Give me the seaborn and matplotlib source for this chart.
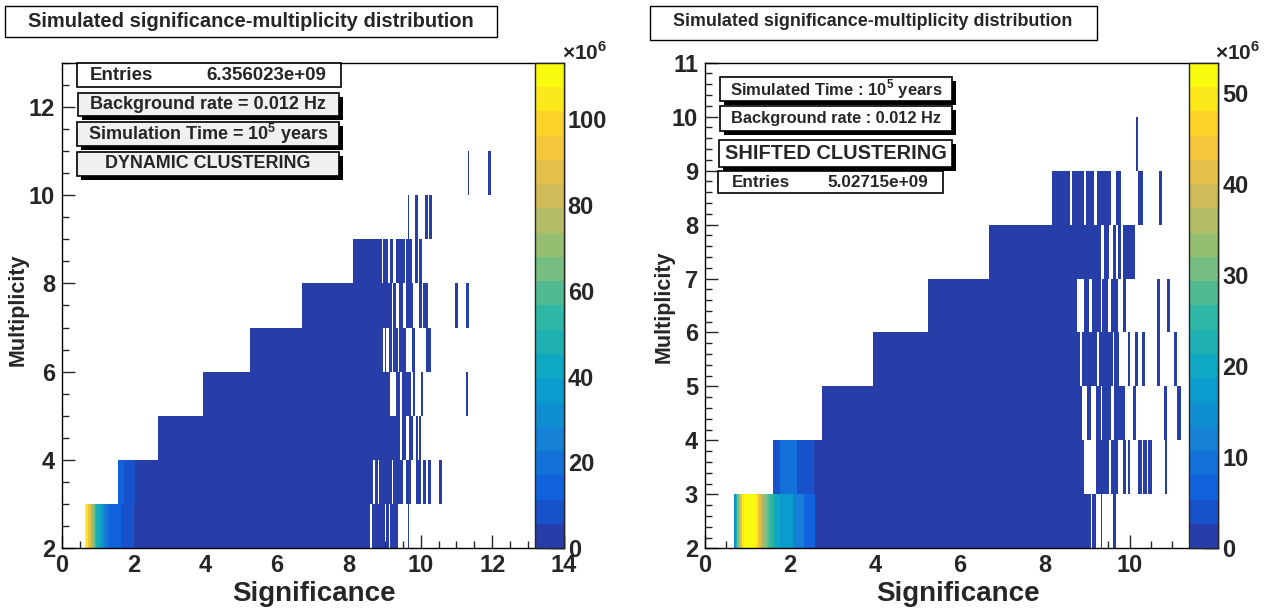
import numpy as np
import matplotlib
matplotlib.use('Agg')
import matplotlib.pyplot as plt
from matplotlib.colors import LinearSegmentedColormap, ListedColormap
from matplotlib.patches import Rectangle
import seaborn as sns

W, H = 1285, 612
BW = 0.04          # significance bin width
DARK = 2.0         # counts (x1e6) of the ordinary filled bins

# ---------------- left: dynamic clustering ----------------
left_rows = [2, 3, 4, 5, 6, 7, 8, 9, 10, 11, 12]
left_start = [0.64, 1.56, 2.68, 3.93, 5.24, 6.67, 8.13, None, None, None, None]
left_head = [
    [112, 104, 96, 86, 78, 70, 64, 56, 50, 45, 40, 36, 32, 28, 25, 22, 20,
     15, 15, 15, 15, 15, 15, 15, 15, 9, 9, 9, 9, 9, 9, 9, 9, 9],
    [13, 13, 13, 13, 8, 8, 8, 8, 8, 8, 8, 8],
    [], [], [], [], [], [], [], [], [],
]
left_solid_end = [8.61, 8.69, 9.32, 9.08, 8.96, 9.22, 8.92, None, None, None, None]
left_tails = [
    [(8.64, 8.68), (8.70, 8.76), (8.78, 8.84), (8.86, 8.96), (9.06, 9.12),
     (9.16, 9.22), (9.28, 9.34), (9.64, 9.68)],
    [(8.72, 8.80), (8.84, 8.98), (9.02, 9.20), (9.24, 9.34), (9.38, 9.52),
     (9.60, 9.69), (9.88, 10.00), (10.10, 10.15), (10.22, 10.26), (10.54, 10.58)],
    [(9.36, 9.44), (9.48, 9.57), (9.71, 9.80), (9.88, 9.92), (9.96, 10.00)],
    [(9.12, 9.16), (9.33, 9.43), (9.48, 9.57), (9.61, 9.71), (9.80, 9.84),
     (10.02, 10.06), (11.28, 11.32)],
    [(9.00, 9.04), (9.13, 9.17), (9.24, 9.34), (9.43, 9.57), (9.78, 9.82),
     (10.19, 10.22), (10.25, 10.28)],
    [(9.26, 9.30), (9.41, 9.49), (9.61, 9.66), (9.70, 9.78), (9.99, 10.04),
     (10.12, 10.17), (10.97, 11.01), (11.31, 11.35)],
    [(8.96, 9.00), (9.04, 9.08), (9.20, 9.24), (9.32, 9.38), (9.42, 9.54),
     (9.61, 9.66), (9.71, 9.75), (9.85, 9.89), (9.98, 10.02)],
    [(9.64, 9.68), (9.85, 9.89), (10.14, 10.18), (10.27, 10.31)],
    [(11.32, 11.36), (11.90, 11.94)],
    [], [],
]
left_zmax = 113.1
left_xmax = 14.0

# ---------------- right: shifted clustering ----------------
right_rows = [2, 3, 4, 5, 6, 7, 8, 9, 10]
right_start = [0.68, 1.60, 2.75, 3.95, 5.25, 6.67, None, None, None]
right_head = [
    [14, 22, 30, 38, 44, 49, 53, 53, 53, 53, 53, 53, 51, 48, 44, 40, 37, 34,
     32, 30, 28, 26, 24, 22, 21, 20, 19, 18,
     16, 16, 16, 16, 16, 16, 16, 12, 12, 12, 12, 12, 12, 6, 6, 6, 6, 6, 6, 6],
    [5, 5, 5, 5, 9, 9, 9, 9, 9, 9, 9, 9, 9, 9, 5, 5, 5, 5, 5, 5, 5, 5, 5, 5],
    [], [], [], [], [], [], [],
]
right_solid_end = [8.55, 8.94, 8.89, 8.86, 8.78, 8.75, None, None, None]
right_tails = [
    [(8.57, 8.62), (8.64, 8.70), (8.72, 8.78), (8.80, 8.86), (8.88, 8.92),
     (8.94, 8.98), (9.02, 9.06), (9.14, 9.18), (9.32, 9.36), (9.62, 9.66)],
    [(9.22, 9.26), (9.29, 9.37), (9.40, 9.49), (9.57, 9.64), (9.67, 9.72),
     (9.84, 9.88), (9.96, 10.00), (10.22, 10.26), (10.33, 10.37), (10.47, 10.51),
     (10.84, 10.88)],
    [(9.02, 9.06), (9.22, 9.29), (9.37, 9.45), (9.48, 9.53), (9.65, 9.73),
     (9.76, 9.86), (10.12, 10.16), (10.82, 10.86), (11.14, 11.18)],
    [(8.90, 9.06), (9.10, 9.22), (9.29, 9.41), (9.45, 9.60), (9.64, 9.76),
     (9.96, 10.00), (10.14, 10.18), (10.30, 10.34), (10.67, 10.71), (11.06, 11.10)],
    [(8.94, 9.02), (9.14, 9.29), (9.37, 9.45), (9.57, 9.69), (9.84, 9.92),
     (10.67, 10.71), (10.90, 10.94)],
    [(8.78, 8.84), (8.86, 9.00), (9.02, 9.14), (9.18, 9.29), (9.41, 9.49),
     (9.61, 9.65), (9.72, 9.80), (9.84, 9.88), (9.92, 9.96), (10.00, 10.04),
     (10.07, 10.11)],
    [(8.17, 8.27), (8.31, 8.38), (8.41, 8.60), (8.65, 8.73), (8.76, 8.92),
     (8.96, 9.14), (9.28, 9.32), (9.33, 9.36), (9.39, 9.43), (9.47, 9.50),
     (9.53, 9.56), (9.70, 9.80), (10.22, 10.30), (10.69, 10.73)],
    [(10.16, 10.20)],
    [],
]
right_zmax = 53.3
right_xmax = 12.08

# ROOT kBird palette, 20 contour levels
bird_stops = [0.0, 0.125, 0.25, 0.375, 0.5, 0.625, 0.75, 0.875, 1.0]
bird_r = [0.2082, 0.0592, 0.0780, 0.0232, 0.1802, 0.5301, 0.8186, 0.9956, 0.9764]
bird_g = [0.1664, 0.3599, 0.5041, 0.6419, 0.7178, 0.7492, 0.7328, 0.7862, 0.9832]
bird_b = [0.5293, 0.8684, 0.8385, 0.7914, 0.6425, 0.4662, 0.3499, 0.1968, 0.0539]
bird = LinearSegmentedColormap.from_list(
    'bird', list(zip(bird_stops, zip(bird_r, bird_g, bird_b))))
levels = ListedColormap(bird((np.arange(20) + 0.99) / 20))


def build(xmax, rows, start, head, solid_end, tails):
    nx = int(round(xmax / BW))
    z = np.zeros((len(rows), nx))
    for r in range(len(rows)):
        i = 0
        if start[r] is not None:
            i = int(round(start[r] / BW))
            for v in head[r]:
                z[r, i] = v
                i += 1
            if solid_end[r] is not None:
                z[r, i:int(round(solid_end[r] / BW))] = DARK
        for a, b in tails[r]:
            i0 = int(a / BW)
            i1 = max(i0 + 1, int(np.ceil(b / BW)))
            z[r, i0:i1] = DARK
    return z


def px_axes(fig, x0, y0, x1, y1):
    return fig.add_axes([x0 / W, 1 - y1 / H, (x1 - x0) / W, (y1 - y0) / H])


def pave(fig, x0, y0, x1, y1, fill='white', shadow=True, lw=1.2):
    # ROOT-like pave: box with black drop shadow
    if shadow:
        fig.add_artist(Rectangle(((x0 + 4) / W, 1 - (y1 + 4) / H), (x1 - x0) / W,
                                 (y1 - y0) / H, transform=fig.transFigure,
                                 facecolor='black', edgecolor='black', lw=0, zorder=5))
    fig.add_artist(Rectangle((x0 / W, 1 - y1 / H), (x1 - x0) / W, (y1 - y0) / H,
                             transform=fig.transFigure, facecolor=fill,
                             edgecolor='black', lw=lw, zorder=6))


def label(fig, x, y, s, size, ha='center', rotation=0):
    fig.text(x / W, 1 - y / H, s, fontsize=size, fontweight='bold',
             ha=ha, va='center', rotation=rotation, zorder=7)


def panel(fig, box, cbox, z, zmax, xmax, xmaj, ymaj, ymin_step, cticks):
    ax = px_axes(fig, *box)
    cax = px_axes(fig, *cbox)
    sns.heatmap(z, mask=(z == 0), cmap=levels, vmin=0, vmax=zmax, ax=ax,
                cbar_ax=cax, xticklabels=False, yticklabels=False)
    ax.invert_yaxis()
    ny = z.shape[0]
    for s in ax.spines.values():
        s.set_visible(True)
        s.set_linewidth(1.0)
        s.set_color('black')
    ax.set_xticks(np.array(xmaj) / BW)
    ax.set_xticklabels([str(v) for v in xmaj])
    ax.set_xticks(np.arange(0, xmax + 1e-6, 0.5) / BW, minor=True)
    ax.set_yticks(np.array(ymaj) - 2)
    ax.set_yticklabels([str(v) for v in ymaj])
    ax.set_yticks(np.arange(0, ny + 1e-6, ymin_step), minor=True)
    ax.tick_params(which='major', direction='in', length=9.5, width=1,
                   labelsize=17, top=False, right=False)
    ax.tick_params(axis='x', which='major', pad=4)
    ax.tick_params(axis='y', which='major', pad=5)
    ax.tick_params(which='minor', direction='in', length=5, width=1,
                   top=False, right=False)
    for t in ax.get_xticklabels() + ax.get_yticklabels():
        t.set_fontweight('bold')
        t.set_rotation(0)
    cb = ax.collections[0].colorbar
    cb.outline.set_linewidth(1)
    cb.set_ticks(cticks)
    cb.set_ticklabels([str(v) for v in cticks])
    cb.minorticks_off()
    cax.tick_params(direction='in', length=10, width=1, labelsize=17, pad=3)
    for t in cax.get_yticklabels():
        t.set_fontweight('bold')
    return ax, cax


sns.set_style('ticks')
plt.rcParams['font.family'] = ['Liberation Sans', 'DejaVu Sans']
plt.rcParams['font.weight'] = 'bold'
plt.rcParams['mathtext.fontset'] = 'custom'
plt.rcParams['mathtext.rm'] = 'Liberation Sans'
plt.rcParams['mathtext.bf'] = 'Liberation Sans:bold'

fig = plt.figure(figsize=(W / 100, H / 100), dpi=100)

zl = build(left_xmax, left_rows, left_start, left_head, left_solid_end, left_tails)
zr = build(right_xmax, right_rows, right_start, right_head, right_solid_end, right_tails)

axl, caxl = panel(fig, (62, 62.7, 564, 548.3), (535, 62.7, 563.5, 548.3), zl,
                  left_zmax, left_xmax, [0, 2, 4, 6, 8, 10, 12, 14],
                  [2, 4, 6, 8, 10, 12], 0.5, [0, 20, 40, 60, 80, 100])
axr, caxr = panel(fig, (705, 62.7, 1218, 548.3), (1189, 62.7, 1218, 548.3), zr,
                  right_zmax, right_xmax, [0, 2, 4, 6, 8, 10],
                  [2, 3, 4, 5, 6, 7, 8, 9, 10, 11], 0.2, [0, 10, 20, 30, 40, 50])

label(fig, 314, 594, 'Significance', 20)
label(fig, 958, 594, 'Significance', 20)
label(fig, 18, 310, 'Multiplicity', 15.5, rotation=90)
label(fig, 664, 307, 'Multiplicity', 15.5, rotation=90)

# colour scale exponent
fig.text(562 / W, 1 - 60 / H, r'$\times$10$^{\mathbf{6}}$', fontsize=15,
         fontweight='bold', ha='left', va='baseline')
fig.text(1215 / W, 1 - 60 / H, r'$\times$10$^{\mathbf{6}}$', fontsize=15,
         fontweight='bold', ha='left', va='baseline')

# left panel boxes
pave(fig, 5, 6, 497, 37, shadow=False, lw=1)
label(fig, 251, 21.5, 'Simulated significance-multiplicity distribution', 14.5)
pave(fig, 77, 63, 341, 87, shadow=False)
label(fig, 90, 75.5, 'Entries', 13.5, ha='left')
label(fig, 326, 75.5, '6.356023e+09', 13.5, ha='right')
pave(fig, 78, 93, 339, 116, fill='#f0f0f0')
label(fig, 208, 104.5, 'Background rate = 0.012 Hz', 13)
pave(fig, 77, 122, 339, 146, fill='#f0f0f0')
label(fig, 208, 134, r'Simulation Time = 10$^{\mathbf{5}}$ years', 13)
pave(fig, 77, 152, 339, 176, fill='#f0f0f0')
label(fig, 208, 164, 'DYNAMIC CLUSTERING', 12.9)

# right panel boxes
pave(fig, 650, 6, 1097, 40, shadow=False, lw=1)
label(fig, 873, 22, 'Simulated significance-multiplicity distribution', 12.9)
pave(fig, 720, 77, 952, 101)
label(fig, 836, 89, r'Simulated Time : 10$^{\mathbf{5}}$ years', 12)
pave(fig, 720, 106, 952, 131)
label(fig, 836, 118.5, 'Background rate : 0.012 Hz', 11.8)
pave(fig, 719, 140, 952, 167)
label(fig, 836, 153.5, 'SHIFTED CLUSTERING', 14.4)
pave(fig, 718, 171, 943, 193, shadow=False)
label(fig, 732, 182, 'Entries', 12.3, ha='left')
label(fig, 928, 182, '5.02715e+09', 12.3, ha='right')

fig.savefig('out.png', dpi=100)
